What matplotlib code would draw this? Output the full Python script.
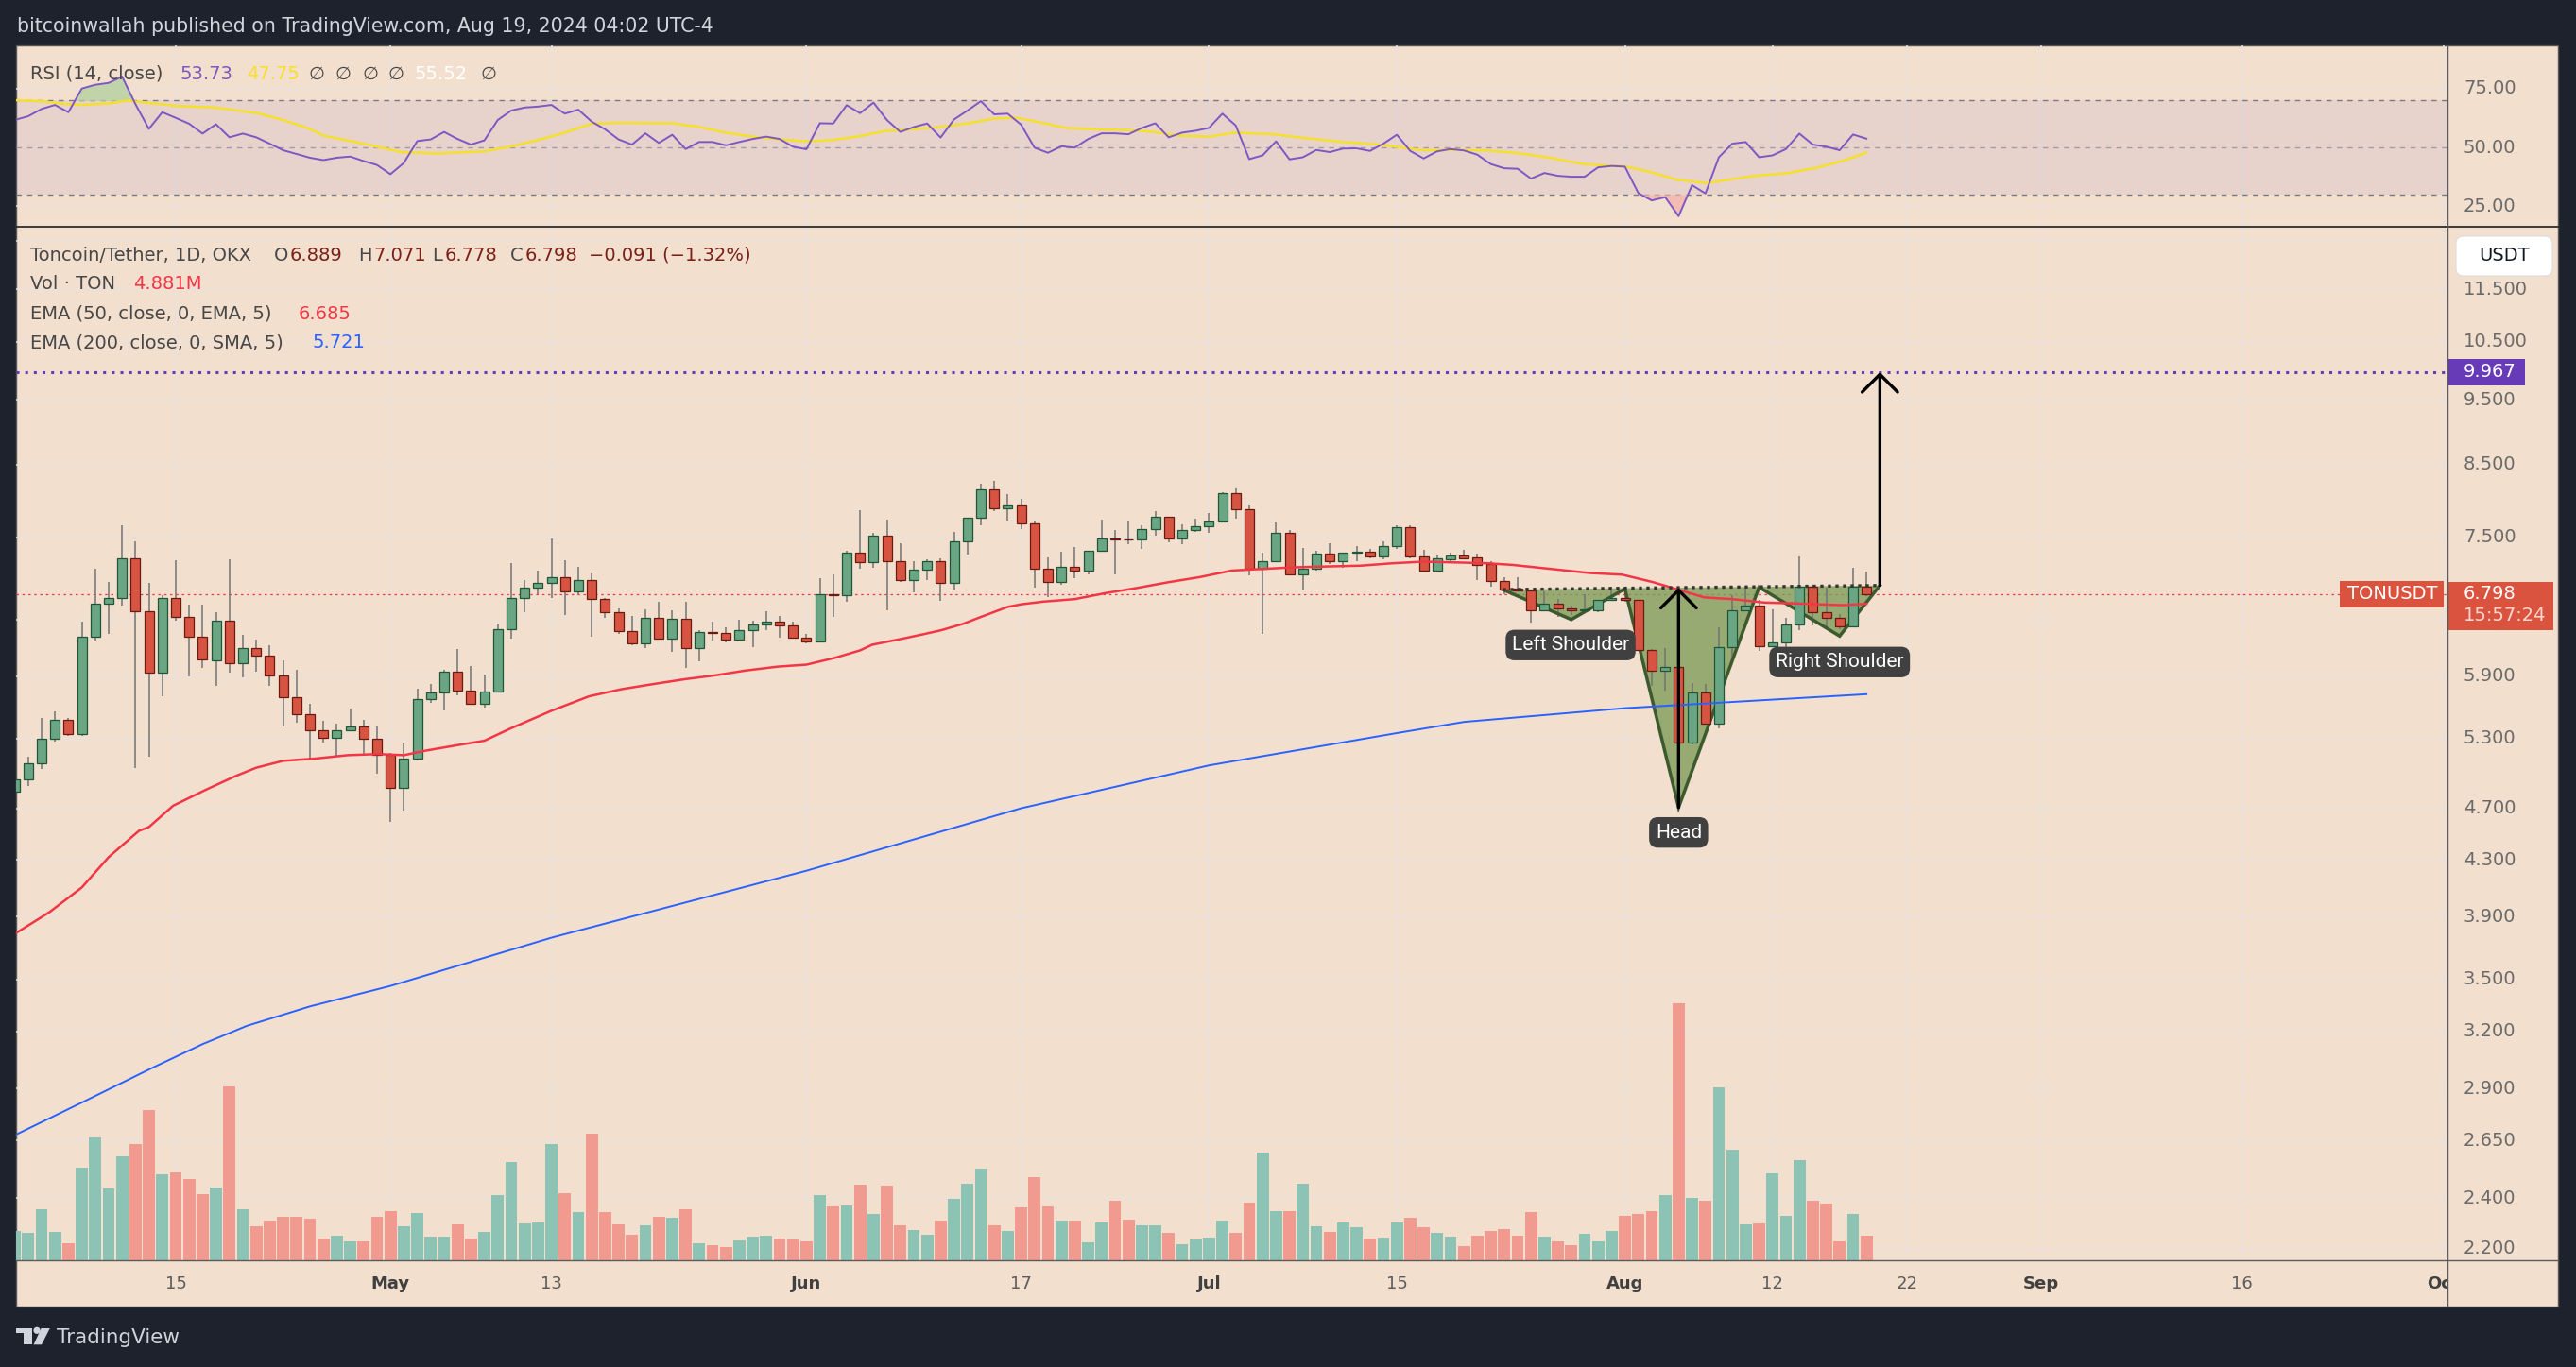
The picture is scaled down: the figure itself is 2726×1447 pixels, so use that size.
import numpy as np
import matplotlib.pyplot as plt
from matplotlib.patches import Rectangle, FancyBboxPatch, Polygon, Circle
from matplotlib.lines import Line2D
from matplotlib.transforms import blended_transform_factory, IdentityTransform

W, H = 2726, 1447

# ---------------- data (x = days since 2024-04-01, first candle Apr 3) ----------------
first_day = 2
opens = [4.84, 4.94, 5.08, 5.30, 5.47, 5.34, 6.32, 6.69, 6.75, 7.23,
         6.60, 5.94, 6.75, 6.54, 6.32, 6.06, 6.49, 6.04, 6.19, 6.11,
         5.91, 5.69, 5.53, 5.38, 5.31, 5.38, 5.41, 5.30, 5.15, 4.87,
         5.12, 5.67, 5.74, 5.95, 5.76, 5.63, 5.75, 6.40, 6.75, 6.87,
         6.93, 7.00, 6.83, 6.97, 6.74, 6.59, 6.38, 6.24, 6.53, 6.30,
         6.52, 6.19, 6.37, 6.36, 6.29, 6.39, 6.45, 6.48, 6.44, 6.31,
         6.27, 6.80, 6.79, 7.30, 7.18, 7.52, 7.19, 6.97, 7.09, 7.20,
         6.93, 7.44, 7.75, 8.15, 7.88, 7.92, 7.68, 7.10, 6.94, 7.12,
         7.08, 7.32, 7.48, 7.475, 7.47, 7.61, 7.77, 7.48, 7.59, 7.64,
         7.71, 8.09, 7.87, 7.10, 7.20, 7.55, 7.03, 7.10, 7.29, 7.20,
         7.30, 7.31, 7.25, 7.39, 7.63, 7.25, 7.08, 7.22, 7.27, 7.24,
         7.16, 6.95, 6.86, 6.84, 6.61, 6.69, 6.63, 6.61, 6.61, 6.73,
         6.75, 6.73, 6.17, 5.96, 6.00, 5.26, 5.74, 5.44, 6.20, 6.61,
         6.67, 6.21, 6.26, 6.45, 6.89, 6.59, 6.53, 6.43, 6.889]
highs = [4.97, 5.14, 5.49, 5.55, 5.49, 6.48, 7.10, 6.94, 7.66, 7.45,
         6.93, 6.79, 7.21, 6.68, 6.68, 6.59, 7.22, 6.34, 6.29, 6.22,
         6.06, 5.97, 5.63, 5.46, 5.44, 5.58, 5.47, 5.41, 5.17, 5.26,
         5.78, 5.82, 5.97, 6.18, 6.01, 5.92, 6.46, 7.17, 6.97, 7.08,
         7.48, 7.21, 7.13, 7.05, 6.75, 6.63, 6.55, 6.62, 6.71, 6.61,
         6.71, 6.39, 6.48, 6.42, 6.50, 6.49, 6.60, 6.55, 6.48, 6.35,
         6.99, 7.03, 7.32, 7.86, 7.55, 7.73, 7.42, 7.20, 7.22, 7.23,
         7.57, 7.76, 8.22, 8.27, 8.08, 8.01, 7.70, 7.24, 7.31, 7.37,
         7.33, 7.73, 7.59, 7.71, 7.66, 7.85, 7.77, 7.67, 7.74, 7.82,
         8.10, 8.16, 7.92, 7.30, 7.69, 7.59, 7.36, 7.33, 7.42, 7.30,
         7.39, 7.35, 7.45, 7.66, 7.66, 7.34, 7.27, 7.30, 7.34, 7.29,
         7.20, 7.00, 7.00, 6.85, 6.83, 6.74, 6.66, 6.80, 6.73, 6.89,
         6.87, 6.73, 6.18, 6.19, 6.04, 5.83, 5.82, 6.42, 6.79, 6.87,
         6.73, 6.62, 6.53, 7.26, 6.91, 6.88, 6.57, 7.11, 7.071]
lows = [4.80, 4.88, 5.03, 5.27, 5.32, 5.32, 6.28, 6.35, 6.67, 5.04,
        5.14, 5.70, 6.49, 5.90, 5.99, 5.80, 5.94, 5.89, 5.95, 5.80,
        5.41, 5.45, 5.12, 5.26, 5.14, 5.37, 5.16, 4.99, 4.59, 4.68,
        5.10, 5.64, 5.56, 5.71, 5.63, 5.59, 5.74, 6.30, 6.59, 6.80,
        6.75, 6.56, 6.80, 6.32, 6.53, 6.35, 6.22, 6.19, 6.29, 6.15,
        5.99, 6.05, 6.28, 6.26, 6.29, 6.20, 6.39, 6.31, 6.31, 6.25,
        6.26, 6.54, 6.71, 7.10, 7.11, 6.61, 6.94, 6.82, 6.96, 6.72,
        6.85, 7.28, 7.65, 7.85, 7.72, 7.60, 6.88, 6.76, 6.91, 6.99,
        7.03, 7.32, 7.03, 7.41, 7.35, 7.52, 7.43, 7.41, 7.57, 7.56,
        7.70, 7.74, 7.02, 6.35, 7.19, 7.02, 6.84, 7.08, 7.16, 7.11,
        7.19, 7.23, 7.22, 7.35, 7.23, 7.07, 7.07, 7.18, 7.23, 6.97,
        6.89, 6.80, 6.83, 6.47, 6.60, 6.54, 6.56, 6.60, 6.59, 6.72,
        6.71, 6.17, 5.80, 5.76, 4.71, 5.25, 5.43, 5.39, 6.09, 6.60,
        6.16, 6.20, 6.19, 6.39, 6.44, 6.42, 6.40, 6.42, 6.778]
closes = [4.94, 5.08, 5.30, 5.47, 5.34, 6.32, 6.69, 6.75, 7.23, 6.60,
          5.94, 6.75, 6.54, 6.32, 6.07, 6.49, 6.04, 6.19, 6.11, 5.91,
          5.69, 5.53, 5.38, 5.31, 5.38, 5.41, 5.30, 5.15, 4.87, 5.12,
          5.67, 5.74, 5.95, 5.76, 5.63, 5.75, 6.40, 6.75, 6.87, 6.93,
          7.00, 6.83, 6.97, 6.74, 6.59, 6.38, 6.24, 6.53, 6.30, 6.52,
          6.19, 6.37, 6.36, 6.29, 6.39, 6.45, 6.48, 6.44, 6.31, 6.27,
          6.80, 6.79, 7.30, 7.18, 7.52, 7.19, 6.97, 7.09, 7.20, 6.93,
          7.44, 7.75, 8.15, 7.88, 7.92, 7.68, 7.10, 6.94, 7.12, 7.08,
          7.32, 7.48, 7.475, 7.47, 7.61, 7.77, 7.48, 7.59, 7.64, 7.71,
          8.09, 7.87, 7.10, 7.20, 7.55, 7.03, 7.10, 7.29, 7.20, 7.30,
          7.31, 7.25, 7.39, 7.63, 7.25, 7.08, 7.23, 7.27, 7.23, 7.15,
          6.95, 6.85, 6.84, 6.61, 6.69, 6.63, 6.61, 6.62, 6.73, 6.75,
          6.73, 6.17, 5.96, 6.00, 5.26, 5.74, 5.44, 6.20, 6.61, 6.67,
          6.21, 6.26, 6.45, 6.89, 6.59, 6.53, 6.43, 6.889, 6.798]
volumes = [5.7, 5.4, 10.0, 5.6, 3.3, 18.2, 24.1, 14.1, 20.4, 22.8,   # M TON
           29.5, 16.9, 17.2, 15.9, 13.0, 14.3, 34.1, 10.0, 6.7, 7.8,
           8.5, 8.5, 8.2, 4.3, 4.8, 3.7, 3.7, 8.5, 9.6, 6.7,
           9.3, 4.6, 4.6, 7.0, 4.3, 5.6, 12.8, 19.3, 7.2, 7.4,
           22.8, 13.2, 9.5, 24.8, 9.5, 7.0, 5.0, 6.9, 8.5, 8.3,
           10.0, 3.3, 3.0, 2.6, 3.9, 4.6, 4.8, 4.3, 4.1, 3.7,
           12.8, 10.6, 10.7, 14.8, 9.1, 14.6, 6.9, 5.9, 5.0, 7.8,
           12.1, 15.1, 18.0, 6.9, 5.8, 10.4, 16.4, 10.6, 7.7, 7.8,
           3.6, 7.5, 11.6, 8.0, 6.9, 6.9, 5.4, 3.2, 4.0, 4.5,
           7.7, 5.3, 11.4, 21.2, 9.7, 9.7, 15.1, 6.7, 5.6, 7.5,
           6.5, 4.3, 4.5, 7.5, 8.4, 6.4, 5.4, 4.7, 2.8, 4.9,
           5.8, 6.2, 4.9, 9.5, 4.7, 3.8, 3.0, 5.1, 3.8, 5.8,
           8.8, 9.1, 9.7, 12.7, 50.5, 12.3, 11.6, 34.0, 21.7, 7.1,
           7.3, 17.1, 8.8, 19.7, 11.7, 11.2, 3.8, 9.0, 4.881]
rsi = [61.7, 63.3, 66.4, 68.1, 65.0, 75.1, 76.7, 77.5, 80.2, 68.4,
       57.9, 65.0, 62.6, 60.1, 55.9, 59.9, 54.3, 55.9, 54.3, 51.6,
       48.8, 47.2, 45.6, 44.6, 45.6, 46.1, 44.2, 42.5, 38.6, 43.4,
       52.7, 53.4, 56.6, 53.6, 51.2, 53.0, 61.7, 65.7, 67.0, 67.4,
       68.1, 64.4, 66.1, 61.0, 57.7, 53.4, 51.2, 56.0, 51.9, 55.4,
       49.3, 52.3, 52.3, 50.9, 52.3, 53.6, 54.6, 53.6, 50.3, 49.2,
       60.3, 60.2, 68.0, 64.6, 69.1, 61.7, 56.6, 58.7, 60.2, 54.2,
       61.9, 65.7, 69.7, 64.1, 64.4, 59.7, 49.9, 47.7, 50.5, 49.9,
       53.6, 56.0, 56.0, 55.6, 58.3, 60.3, 54.3, 56.3, 57.1, 58.3,
       64.4, 59.3, 45.0, 46.6, 52.6, 44.9, 45.8, 48.9, 48.0, 49.5,
       49.6, 48.5, 51.6, 55.4, 48.5, 45.3, 48.3, 49.3, 48.7, 46.9,
       42.9, 41.1, 40.9, 36.7, 39.1, 37.9, 37.5, 37.5, 41.5, 42.1,
       41.8, 30.5, 27.4, 28.8, 20.7, 33.9, 30.4, 45.8, 51.6, 52.3,
       45.8, 46.6, 49.3, 55.9, 51.2, 50.3, 48.8, 55.5, 53.73]
rsi_ma_days = [2.1, 3.9, 6.0, 7.0, 9.1, 10.4, 11.1, 14.0, 16.9, 20.1,
               22.0, 24.0, 25.0, 27.0, 29.0, 30.8, 33.5, 37.0, 38.9, 40.9,
               43.0, 45.0, 47.0, 51.0, 53.0, 55.0, 57.0, 59.0, 60.9, 62.9,
               65.0, 66.9, 68.9, 70.9, 73.1, 75.0, 76.7, 78.5, 80.3, 82.5,
               84.8, 86.8, 88.8, 91.1, 92.9, 95.8, 98.3, 101.0, 103.7, 105.4,
               107.0, 109.5, 111.7, 114.0, 116.2, 118.9, 122.1, 123.9, 125.9, 128.1,
               129.7, 131.5, 134.2, 136.4, 138.2, 140.0]
rsi_ma = [70.1, 69.7, 68.4, 68.1, 68.8, 70.0, 69.5, 67.7, 67.0, 64.6,
          61.7, 57.9, 55.0, 52.8, 50.3, 48.0, 47.4, 48.3, 50.3, 53.0,
          56.3, 60.1, 60.5, 60.3, 58.7, 56.3, 54.6, 53.4, 52.6, 53.1,
          54.8, 57.0, 57.7, 58.7, 60.3, 62.3, 62.6, 60.6, 58.3, 57.7,
          57.4, 56.7, 55.0, 54.6, 56.3, 55.6, 53.9, 52.3, 51.2, 49.9,
          48.8, 48.9, 48.7, 47.6, 45.8, 42.9, 41.8, 39.5, 36.2, 34.8,
          36.2, 37.8, 39.1, 41.5, 44.2, 47.75]
ema50_days = [2.1, 4.6, 7.0, 9.0, 11.25, 12.0, 13.8, 16.2, 18.5, 20.0,
              22.0, 24.4, 26.8, 29.1, 31.0, 32.6, 35.0, 37.0, 38.9, 42.0,
              44.8, 47.2, 49.5, 51.9, 54.2, 56.5, 58.9, 61.0, 63.1, 65.0,
              65.9, 68.3, 69.9, 71.1, 72.7, 73.9, 76.0, 77.0, 78.6, 81.0,
              83.3, 85.6, 88.0, 90.3, 92.7, 95.0, 97.4, 99.7, 102.3, 104.7,
              107.0, 109.4, 111.7, 113.6, 115.9, 119.4, 121.8, 124.1, 126.0, 127.9,
              130.0, 132.4, 134.7, 138.2, 140.0]
ema50 = [3.79, 3.93, 4.10, 4.32, 4.52, 4.55, 4.72, 4.85, 4.97, 5.04,
         5.10, 5.12, 5.15, 5.16, 5.15, 5.19, 5.24, 5.28, 5.39, 5.56,
         5.70, 5.77, 5.82, 5.87, 5.91, 5.96, 6.00, 6.02, 6.09, 6.17,
         6.23, 6.30, 6.35, 6.39, 6.46, 6.53, 6.65, 6.68, 6.71, 6.74,
         6.81, 6.87, 6.94, 7.00, 7.08, 7.10, 7.12, 7.13, 7.14, 7.17,
         7.19, 7.18, 7.17, 7.15, 7.11, 7.05, 7.03, 6.94, 6.85, 6.76,
         6.74, 6.70, 6.69, 6.67, 6.685]
ema200_days = [2.1, 7.0, 12.3, 16.0, 19.3, 24.0, 30.0, 42.0, 61.0, 77.0, 91.0, 105.0, 110.0, 122.0, 140.0]
ema200 = [2.678, 2.83, 3.006, 3.13, 3.23, 3.34, 3.46, 3.76, 4.22, 4.70, 5.06, 5.35, 5.454, 5.585, 5.721]

tick_days = [14, 30, 42, 61, 77, 91, 105, 122, 133, 143, 153, 168, 183]
tick_labels = ['15', 'May', '13', 'Jun', '17', 'Jul', '15', 'Aug', '12', '22', 'Sep', '16', 'Oct']
price_ticks = [11.5, 10.5, 9.5, 8.5, 7.5, 6.5, 5.9, 5.3, 4.7, 4.3, 3.9, 3.5, 3.2, 2.9, 2.65, 2.4, 2.2]
rsi_ticks = [75, 50, 25]
target_price = 9.967

# inverse head & shoulders drawing
pattern_days = [112.9, 118.0, 122.0, 126.0, 132.0, 138.0, 141.0]
pattern_prices = [6.852, 6.507, 6.861, 4.707, 6.880, 6.324, 6.900]
pattern_labels = [('Left Shoulder', 117.95, 6.227), ('Head', 126.0, 4.508), ('Right Shoulder', 138.0, 6.047)]

days = np.arange(first_day, first_day + len(closes))
o, h, l, c = map(np.array, (opens, highs, lows, closes))
up = c >= o

# ---------------- look ----------------
BG = '#f2dfce'
GRID = '#e9e2de'
DARK = '#1e222d'
UP, UP_EDGE = '#6aa684', '#1f5538'
DN, DN_EDGE = '#d85442', '#6b1a12'
VUP, VDN = '#8cc3b4', '#f19b90'
LEG = '#474747'
VAL = '#7a2018'
FAM = ['Roboto', 'DejaVu Sans']
XLIM = (2.1, 183.3)
YLIM = (2.1564, 12.806)
RSI_LIM = (16.2, 93.5)
LEFT, RIGHT, AXR = 17, 2590, 2707
TOP, RSI_B, MAIN_B, BOT = 48, 240, 1334, 1383
ID = IdentityTransform()

plt.rcParams['font.family'] = ['DejaVu Sans']
fig = plt.figure(figsize=(W / 100, H / 100), dpi=100, facecolor=DARK)


def box(x0, y0, x1, y1):
    return [x0 / W, 1 - y1 / H, (x1 - x0) / W, (y1 - y0) / H]


def label(x, y, s, **kw):
    kw.setdefault('va', 'center')
    kw.setdefault('zorder', 10)
    fig.text(x, H - y, s, transform=ID, **kw)


def prect(x0, y0, x1, y1, **kw):
    fig.add_artist(Rectangle((x0, H - y1), x1 - x0, y1 - y0, transform=ID, **kw))


def hline(x0, x1, y, **kw):
    fig.add_artist(Line2D([x0, x1], [H - y, H - y], transform=ID, **kw))


prect(LEFT, TOP, AXR, BOT, facecolor=BG, edgecolor='#555555', lw=1, zorder=-10)

ax_vol = fig.add_axes(box(LEFT, RSI_B, RIGHT, MAIN_B), zorder=1)
ax = fig.add_axes(box(LEFT, RSI_B, RIGHT, MAIN_B), zorder=2)
ax_rsi = fig.add_axes(box(LEFT, TOP, RIGHT, RSI_B), zorder=2)
ax_time = fig.add_axes(box(LEFT, MAIN_B, RIGHT, BOT), zorder=2)
ax_px = fig.add_axes(box(RIGHT, RSI_B, AXR, MAIN_B), zorder=2)
ax_rx = fig.add_axes(box(RIGHT, TOP, AXR, RSI_B), zorder=2)

ax.set_yscale('log')
ax_px.set_yscale('log')
for a in (ax, ax_vol, ax_rsi, ax_time):
    a.set_xlim(XLIM)
ax.set_ylim(YLIM)
ax_px.set_ylim(YLIM)
ax_vol.set_ylim(0, 202.8)
ax_rsi.set_ylim(RSI_LIM)
ax_rx.set_ylim(RSI_LIM)
ax_time.set_ylim(0, 1)
for a in (ax_vol, ax, ax_rsi, ax_time, ax_px, ax_rx):
    a.set_facecolor('none')
    a.tick_params(which='both', left=False, bottom=False, labelleft=False, labelbottom=False)
    for s in a.spines.values():
        s.set_visible(False)

# grid (drawn on the bottom axes so volume sits on top of it)
ytr = blended_transform_factory(ax_vol.transAxes, ax.transData)
for p in price_ticks + [12.5]:
    ax_vol.plot([0, 1], [p, p], transform=ytr, color=GRID, lw=1.1, zorder=0)
for d in tick_days:
    ax_vol.axvline(d, color=GRID, lw=1.1, zorder=0)
    ax_rsi.axvline(d, color=GRID, lw=1.1, zorder=0)

# volume
ax_vol.bar(days, volumes, width=0.9, color=np.where(up, VUP, VDN), lw=0, zorder=2)

# candles
ax.vlines(days, l, h, color='#737373', lw=1.1, zorder=3)
ax.bar(days, np.abs(c - o), bottom=np.minimum(o, c), width=0.7,
       color=np.where(up, UP, DN), edgecolor=np.where(up, UP_EDGE, DN_EDGE), lw=0.9, zorder=4)

# moving averages
ax.plot(ema50_days, ema50, color='#f23645', lw=1.8, zorder=5)
ax.plot(ema200_days, ema200, color='#2962ff', lw=1.4, zorder=5)

# price lines
ax.axhline(closes[-1], color='#f23645', lw=0.9, ls=(0, (2, 3)), zorder=2)
ax.axhline(target_price, color='#673ab7', lw=2.2, ls=(0, (1, 2)), zorder=5)

# head & shoulders
ax.add_patch(Polygon(list(zip(pattern_days, pattern_prices)), closed=True,
                     facecolor='#7f9d5b', alpha=0.8, edgecolor='none', zorder=2.5))
ax.plot(pattern_days, pattern_prices, color='#3c5a2e', lw=2.5, zorder=3.5, solid_joinstyle='miter')
ax.plot([pattern_days[0], pattern_days[-1]], [pattern_prices[0], pattern_prices[-1]],
        color='#333333', lw=2.4, ls=(0, (1, 1.4)), zorder=6)
neck_at_head = (pattern_prices[2] + pattern_prices[4]) / 2
arrow = dict(arrowstyle='->,head_length=1.35,head_width=1.35', lw=2.4, color='black',
             shrinkA=0, shrinkB=0, mutation_scale=10)
ax.annotate('', xy=(pattern_days[3], neck_at_head), xytext=(pattern_days[3], pattern_prices[3]),
            arrowprops=arrow, zorder=7)
ax.annotate('', xy=(pattern_days[-1], target_price), xytext=(pattern_days[-1], pattern_prices[-1]),
            arrowprops=arrow, zorder=7)
for txt, d, p in pattern_labels:
    ax.text(d, p, txt, ha='center', va='center', color='white', fontsize=15, family=FAM, zorder=8,
            bbox=dict(boxstyle='round,pad=0.32,rounding_size=0.45', fc='#404040', ec='none'))

# RSI pane
rsi_a = np.array(rsi)
ax_rsi.axhspan(30, 70, color='#7e57c2', alpha=0.09, lw=0, zorder=0)
for v in (75, 25):
    ax_rsi.axhline(v, color=GRID, lw=1.1, zorder=0)
ax_rsi.axhline(70, color='#787b86', lw=1.0, ls=(0, (4, 4)), zorder=1)
ax_rsi.axhline(50, color='#a29ca8', lw=1.0, ls=(0, (4, 4)), zorder=1)
ax_rsi.axhline(30, color='#787b86', lw=1.0, ls=(0, (4, 4)), zorder=1)
ax_rsi.fill_between(days, rsi_a, 70, where=rsi_a > 70, interpolate=True, color='#b9d1a3', alpha=0.85, lw=0)
ax_rsi.fill_between(days, rsi_a, 30, where=rsi_a < 30, interpolate=True, color='#f4b6ad', alpha=0.85, lw=0)
ax_rsi.plot(rsi_ma_days, rsi_ma, color='#f5e02a', lw=1.8, zorder=2)
ax_rsi.plot(days, rsi_a, color='#7e57c2', lw=1.4, zorder=3)

# time axis
for d, lab in zip(tick_days, tick_labels):
    month = lab.isalpha()
    ax_time.text(d, 0.48, lab, ha='center', va='center', fontsize=13, clip_on=True,
                 color='#404040' if month else '#5c5c5c', fontweight='bold' if month else 'normal')

# price / rsi scales
for p in price_ticks:
    if p == 6.5:
        continue
    ax_px.text(0.145, p, f'{p:.3f}', transform=ax_px.get_yaxis_transform(), va='center',
               fontsize=14, color='#6a6a6a')
for v in rsi_ticks:
    ax_rx.text(0.145, v, f'{v:.2f}', transform=ax_rx.get_yaxis_transform(), va='center',
               fontsize=14, color='#6a6a6a')


def ypx(p):
    return H - ax.transData.transform((XLIM[0], p))[1]


yt = ypx(target_price)
prect(RIGHT, yt - 14, 2672, yt + 14, facecolor='#673ab7', edgecolor='none', zorder=9)
label(2607, yt, f'{target_price:.3f}', color='white', fontsize=14)

yc = ypx(closes[-1])
prect(RIGHT, yc - 12.5, 2702, yc + 38, facecolor='#d9533f', edgecolor='none', zorder=9)
label(2607, yc, f'{closes[-1]:.3f}', color='white', fontsize=14)
label(2607, yc + 23, '15:57:24', color='#fbd9d2', fontsize=14)
prect(2476, yc - 14, 2586, yc + 14, facecolor='#d9533f', edgecolor='none', zorder=9)
label(2580, yc, 'TONUSDT', color='white', fontsize=14, ha='right')

fig.add_artist(FancyBboxPatch((2599, H - 292), 102, 42, boxstyle='round,pad=0,rounding_size=8',
                              transform=ID, facecolor='white', edgecolor='#dddddd', lw=0.8, zorder=9))
label(2650, 271, 'USDT', color='#131722', fontsize=14, ha='center')

# separators
hline(LEFT, AXR, RSI_B, color='#2e2e2e', lw=1.3, zorder=9)
hline(LEFT, AXR, MAIN_B, color='#5a5a5a', lw=1.0, zorder=9)
fig.add_artist(Line2D([RIGHT, RIGHT], [H - TOP, H - BOT], transform=ID, color='#5a5a5a', lw=1.0, zorder=9))

# header texts
label(18, 28, 'bitcoinwallah published on TradingView.com, Aug 19, 2024 04:02 UTC-4',
      color='#d1d4dc', fontsize=14.8)

leg = dict(fontsize=14)
label(32, 78, 'RSI (14, close)', color=LEG, **leg)
label(190.6, 78, f'{rsi[-1]:.2f}', color='#7e57c2', **leg)
label(261, 78, f'{rsi_ma[-1]:.2f}', color='#f5e02a', **leg)
for x in (327, 355, 383.5, 411, 508):
    label(x, 78, '\u2205', color=LEG, **leg)
label(438, 78, '55.52', color='white', **leg)

label(32, 270, 'Toncoin/Tether, 1D, OKX', color=LEG, **leg)
chg = closes[-1] - closes[-2]
for x, letter in ((290, 'O'), (379, 'H'), (457.5, 'L'), (539.6, 'C')):
    label(x, 270, letter, color=LEG, **leg)
for x, v in ((307, opens[-1]), (395, highs[-1]), (470.7, lows[-1]), (555.7, closes[-1])):
    label(x, 270, f'{v:.3f}', color=VAL, **leg)
label(622.8, 270, f'\u2212{abs(chg):.3f} (\u2212{abs(chg) / closes[-2] * 100:.2f}%)', color=VAL, **leg)
label(32, 301, 'Vol \u00b7 TON', color=LEG, **leg)
label(140.6, 301, f'{volumes[-1]:.3f}M', color='#f23645', **leg)
label(32, 332, 'EMA (50, close, 0, EMA, 5)', color=LEG, **leg)
label(315.7, 332, f'{ema50[-1]:.3f}', color='#f23645', **leg)
label(32, 363, 'EMA (200, close, 0, SMA, 5)', color=LEG, **leg)
label(330, 363, f'{ema200[-1]:.3f}', color='#2962ff', **leg)

# TradingView logo
LOGO = '#d1d4dc'
prect(17.2, 1406, 34.4, 1410.7, facecolor=LOGO, edgecolor='none', zorder=9)
prect(25.3, 1406, 34.4, 1423.3, facecolor=LOGO, edgecolor='none', zorder=9)
fig.add_artist(Circle((39.0, H - 1408.3), 3.6, transform=ID, facecolor=LOGO, edgecolor='none', zorder=9))
fig.add_artist(Polygon([(43.6, H - 1406), (52.8, H - 1406), (44.0, H - 1423.3), (35.6, H - 1423.3)],
                       closed=True, transform=ID, facecolor=LOGO, edgecolor='none', zorder=9))
label(60, 1416, 'TradingView', color=LOGO, fontsize=15.5)

fig.savefig('out.png', dpi=100, facecolor=DARK)
